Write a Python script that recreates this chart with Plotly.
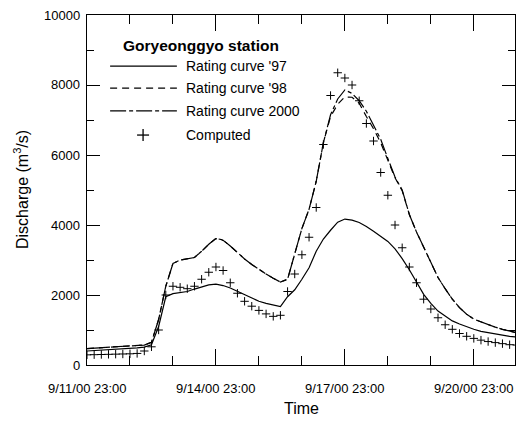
import plotly.graph_objects as go

# Hours elapsed since 9/11/00 23:00, sampled every 4 hours
hours = [0, 4, 8, 12, 16, 20, 24, 28, 32, 36,
         40, 44, 48, 52, 56, 60, 64, 68, 72, 76,
         80, 84, 88, 92, 96, 100, 104, 108, 112, 116,
         120, 124, 128, 132, 136, 140, 144, 148, 152, 156,
         160, 164, 168, 172, 176, 180, 184, 188, 192, 196,
         200, 204, 208, 212, 216, 220, 224, 228, 232, 236, 240]

# Discharge (m3/s) from the 1997 rating curve
rating_97 = [400, 410, 420, 430, 440, 455, 470, 490, 510, 580,
             1100, 1950, 2040, 2060, 2100, 2170, 2240, 2290, 2310, 2270,
             2200, 2100, 2000, 1900, 1820, 1760, 1710, 1670, 1950, 2150,
             2450, 2780, 3250, 3600, 3850, 4080, 4170, 4140, 4070, 3960,
             3820, 3670, 3530, 3320, 3040, 2720, 2350, 2020, 1760, 1540,
             1400, 1260, 1170, 1090, 1020, 960, 920, 880, 850, 820, 800]

# Discharge (m3/s) from the 1998 rating curve
rating_98 = [470, 480, 490, 500, 510, 520, 530, 550, 570, 650,
             1300, 2250, 2900, 3000, 3030, 3070, 3250, 3450, 3610, 3560,
             3400, 3200, 3030, 2870, 2730, 2600, 2480, 2370, 2450, 3200,
             3900, 4450, 5250, 6350, 7100, 7450, 7660, 7650, 7480, 7100,
             6750, 6350, 5850, 5350, 4980, 4300, 3800, 3350, 2900, 2500,
             2180, 1880, 1640, 1450, 1310, 1230, 1160, 1080, 1020, 960, 920]

# Discharge (m3/s) from the 2000 rating curve
rating_2000 = [470, 480, 490, 500, 510, 520, 530, 550, 570, 650,
               1300, 2250, 2900, 3000, 3030, 3070, 3250, 3450, 3620, 3570,
               3400, 3200, 3030, 2870, 2730, 2600, 2480, 2370, 2450, 3200,
               3900, 4450, 5250, 6350, 7150, 7600, 7860, 7760, 7550, 7250,
               6870, 6450, 5900, 5370, 5000, 4300, 3800, 3350, 2900, 2500,
               2180, 1880, 1640, 1450, 1310, 1230, 1160, 1080, 1020, 960, 920]

# Computed discharge (m3/s)
computed = [290, 295, 300, 305, 310, 315, 320, 330, 400, 520,
            1000, 2000, 2250, 2220, 2180, 2250, 2450, 2650, 2800, 2700,
            2350, 2050, 1820, 1680, 1560, 1460, 1390, 1420, 2100, 2600,
            3150, 3650, 4500, 6300, 7700, 8350, 8200, 8000, 7550, 6900,
            6400, 5500, 4850, 4000, 3350, 2800, 2350, 1880, 1600, 1350,
            1150, 1020, 900, 820, 760, 710, 670, 640, 610, 580, 570]

tick_hours = [0, 72, 144, 216]
tick_labels = ["9/11/00 23:00", "9/14/00 23:00", "9/17/00 23:00", "9/20/00 23:00"]
y_ticks = [0, 2000, 4000, 6000, 8000, 10000]
y_labels = ["0", "2000", "4000", "6000", "8000", "10000"]
x_range = [0, 239]
y_range = [0, 10000]

series_names = ["Rating curve '97", "Rating curve '98", "Rating curve 2000", "Computed"]
station = "Goryeonggyo station"
x_title = "Time"
y_title = "Discharge (m<sup>3</sup>/s)"

font_family = "Liberation Sans, Arial, sans-serif"
solid = dict(color="black", width=1.2)
dashed = dict(color="black", width=1.2, dash="7px,5px")
dashdot = dict(color="black", width=1.2, dash="16px,3px,4px,3px")

fig = go.Figure()
fig.add_trace(go.Scatter(x=hours, y=rating_97, mode="lines",
                         name=series_names[0], line=solid))
fig.add_trace(go.Scatter(x=hours, y=rating_98, mode="lines",
                         name=series_names[1], line=dashed))
fig.add_trace(go.Scatter(x=hours, y=rating_2000, mode="lines",
                         name=series_names[2], line=dashdot))
fig.add_trace(go.Scatter(x=hours, y=computed, mode="markers",
                         name=series_names[3],
                         marker=dict(symbol="cross-thin", size=6, color="black",
                                     line=dict(color="black", width=1))))

# Key box in the upper-left corner, in paper coordinates
line_x0, line_x1, text_x = 0.054, 0.210, 0.226
row_y = [0.854, 0.791, 0.726, 0.657]
shapes = []
for y, style in zip(row_y[:3], [solid, dashed, dashdot]):
    shapes.append(dict(type="line", xref="paper", yref="paper",
                       x0=line_x0, x1=line_x1, y0=y, y1=y, line=style))
plus_x, plus_y = 0.131, row_y[3]
shapes.append(dict(type="line", xref="paper", yref="paper",
                   x0=plus_x - 0.014, x1=plus_x + 0.014, y0=plus_y, y1=plus_y,
                   line=dict(color="black", width=1.3)))
shapes.append(dict(type="line", xref="paper", yref="paper",
                   x0=plus_x, x1=plus_x, y0=plus_y - 0.017, y1=plus_y + 0.017,
                   line=dict(color="black", width=1.3)))

annotations = [dict(text="<b>" + station + "</b>", xref="paper", yref="paper",
                    x=0.266, y=0.914, xanchor="center", yanchor="middle",
                    showarrow=False, font=dict(size=15.5))]
for y, name in zip(row_y, series_names):
    annotations.append(dict(text=name, xref="paper", yref="paper",
                            x=text_x, y=y, xanchor="left", yanchor="middle",
                            showarrow=False, font=dict(size=14)))

# Date labels under the time axis, at their tick positions
for h, label in zip(tick_hours, tick_labels):
    annotations.append(dict(text=label, xref="paper", yref="paper",
                            x=(h - x_range[0]) / (x_range[1] - x_range[0]), y=0,
                            xanchor="center", yanchor="middle",
                            yshift=-23, showarrow=False, font=dict(size=13)))
# Discharge labels left of the value axis
for v, label in zip(y_ticks, y_labels):
    annotations.append(dict(text=label, xref="paper", yref="paper",
                            x=0, y=(v - y_range[0]) / (y_range[1] - y_range[0]),
                            xanchor="right", yanchor="middle",
                            xshift=-5, showarrow=False, font=dict(size=13)))
annotations.append(dict(text=x_title, xref="paper", yref="paper",
                        x=0.5, y=0, xanchor="center", yanchor="middle",
                        yshift=-43, showarrow=False, font=dict(size=16)))
annotations.append(dict(text=y_title, xref="paper", yref="paper",
                        x=0, y=0.5, xanchor="center", yanchor="middle",
                        xshift=-66, textangle=-90, showarrow=False,
                        font=dict(size=16)))

fig.update_layout(
    width=516, height=421,
    margin=dict(l=87, r=1, t=15, b=56),
    paper_bgcolor="white", plot_bgcolor="white",
    font=dict(family=font_family, size=13, color="black"),
    showlegend=False,
    shapes=shapes,
    annotations=annotations,
    xaxis=dict(
        range=x_range, tickmode="array", tickvals=tick_hours,
        showticklabels=False, automargin=False,
        ticks="inside", ticklen=16, tickwidth=1, tickcolor="black",
        minor=dict(dtick=24, tick0=0, ticks="inside", ticklen=9,
                   tickcolor="black", showgrid=False),
        showline=True, linecolor="black", linewidth=1, mirror="ticks",
        showgrid=False, zeroline=False,
    ),
    yaxis=dict(
        range=y_range, tickmode="array", tickvals=y_ticks,
        showticklabels=False, automargin=False,
        ticks="inside", ticklen=13, tickwidth=1, tickcolor="black",
        minor=dict(dtick=1000, tick0=0, ticks="inside", ticklen=7,
                   tickcolor="black", showgrid=False),
        showline=True, linecolor="black", linewidth=1, mirror="ticks",
        showgrid=False, zeroline=False,
    ),
)

fig.write_html("out.html")
